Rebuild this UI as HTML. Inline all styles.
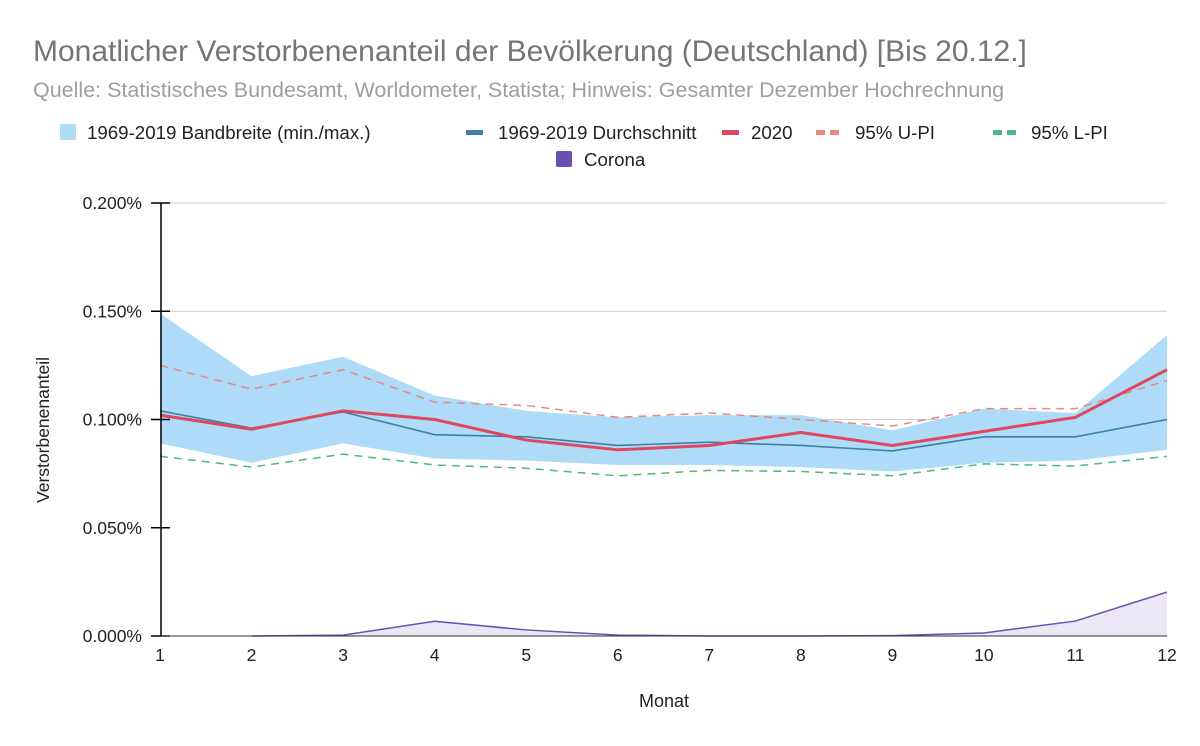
<!DOCTYPE html>
<html><head><meta charset="utf-8"><style>
body{margin:0;background:#fff;font-family:"Liberation Sans",Arial,sans-serif}
svg{display:block}
</style></head><body>
<svg id="c" width="1200" height="746">
<text x="33" y="61" font-size="30" fill="#757575">Monatlicher Verstorbenenanteil der Bevölkerung (Deutschland) [Bis 20.12.]</text>
<text x="33" y="97" font-size="21.5" fill="#9e9e9e">Quelle: Statistisches Bundesamt, Worldometer, Statista; Hinweis: Gesamter Dezember Hochrechnung</text>
<g font-size="18.7" fill="#222">
<rect x="60" y="124" width="16" height="16" fill="#aedcf8" rx="2"/><text x="87" y="139">1969-2019 Bandbreite (min./max.)</text>
<rect x="466" y="130" width="17" height="5" fill="#3d7fa6"/><text x="498" y="139">1969-2019 Durchschnitt</text>
<rect x="722" y="130" width="17" height="5" fill="#e0475f"/><text x="751" y="139">2020</text>
<rect x="816" y="130" width="9" height="5" fill="#e88a7e"/><rect x="830" y="130" width="9" height="5" fill="#e88a7e"/><text x="855" y="139">95% U-PI</text>
<rect x="993" y="130" width="9" height="5" fill="#4db885"/><rect x="1007" y="130" width="9" height="5" fill="#4db885"/><text x="1031" y="139">95% L-PI</text>
<rect x="556" y="151" width="16" height="16" fill="#6a4fb3" rx="2"/><text x="584" y="166">Corona</text>
</g>
<g id="grid"></g><g id="plot"></g><g id="axes"></g>
<text x="664" y="707" font-size="18" text-anchor="middle" fill="#222">Monat</text>
<text transform="translate(49,430) rotate(-90)" font-size="17.5" text-anchor="middle" fill="#222">Verstorbenenanteil</text>
</svg>
<script>
const months=[1,2,3,4,5,6,7,8,9,10,11,12];
const bandMax=[0.149,0.120,0.129,0.111,0.104,0.101,0.102,0.102,0.095,0.105,0.103,0.139];
const bandMin=[0.089,0.080,0.089,0.082,0.081,0.079,0.079,0.078,0.076,0.080,0.081,0.086];
const avg=[0.104,0.096,0.1035,0.093,0.092,0.088,0.0895,0.088,0.0855,0.092,0.092,0.100];
const y2020=[0.102,0.0955,0.104,0.100,0.0905,0.086,0.088,0.094,0.088,0.0945,0.101,0.123];
const upi=[0.125,0.114,0.123,0.108,0.1065,0.101,0.103,0.100,0.097,0.105,0.105,0.118];
const lpi=[0.083,0.078,0.084,0.079,0.0775,0.074,0.0765,0.076,0.074,0.0795,0.0785,0.083];
const coronaMonths=[2,3,4,5,6,7,8,9,10,11,12];
const corona=[0,0.0004,0.0068,0.0028,0.0004,0,0,0.0002,0.0014,0.0069,0.0203];
const yTicks=[0,0.05,0.1,0.15,0.2];
const yTickLabels=["0.000%","0.050%","0.100%","0.150%","0.200%"];
const gridTicks=[0.1,0.15,0.2];
const NS="http://www.w3.org/2000/svg";
const X=m=>160+(m-1)*(1167-160)/11;
const Y=v=>636-v*(433/0.2);
function mk(parent,tag,attrs){const e=document.createElementNS(NS,tag);for(const k in attrs)e.setAttribute(k,attrs[k]);document.getElementById(parent).appendChild(e);return e;}
gridTicks.forEach(t=>{
 const g=mk('grid','line',{x1:161,x2:1167,y1:Y(t),y2:Y(t),stroke:'#ccc','stroke-width':1});
 
 
});
yTicks.forEach((t,i)=>{
 const tk=mk('axes','line',{x1:151,x2:170,y1:Y(t),y2:Y(t),stroke:'#000','stroke-width':1.5});
 
 
 const l=mk('axes','text',{x:142,y:Y(t)+6,'font-size':17.5,'text-anchor':'end',fill:'#222'});l.textContent=yTickLabels[i];
 
 
});
const ax=mk('axes','line',{x1:161,x2:161,y1:Y(0.2),y2:Y(0),stroke:'#000','stroke-width':1.5});


const bx=mk('axes','line',{x1:161,x2:1167,y1:Y(0),y2:Y(0),stroke:'#333','stroke-width':1});


months.forEach(m=>{const l=mk('axes','text',{x:X(m),y:661,'font-size':17.5,'text-anchor':'middle',fill:'#222'});l.textContent=m;
 
 });
let bp=months.map((m,i)=>X(m)+','+Y(bandMax[i])).join(' ')+' '+months.slice().reverse().map((m,j)=>X(m)+','+Y(bandMin[11-j])).join(' ');
const band=mk('plot','polygon',{points:bp,fill:'#aedcf8'});


const pts=(ms,vs)=>ms.map((m,i)=>X(m)+','+Y(vs[i])).join(' ');
const cp=pts(coronaMonths,corona)+' '+X(12)+','+Y(0)+' '+X(2)+','+Y(0);
const cf=mk('plot','polygon',{points:cp,fill:'#ebe7f4'});


const cl=mk('plot','polyline',{points:pts(coronaMonths,corona),fill:'none',stroke:'#6a4fb3','stroke-width':1.5});


const u=mk('plot','polyline',{points:pts(months,upi),fill:'none',stroke:'#e88a7e','stroke-width':1.5,'stroke-dasharray':'8 6'});


const lo=mk('plot','polyline',{points:pts(months,lpi),fill:'none',stroke:'#4db885','stroke-width':1.5,'stroke-dasharray':'8 6'});


const a=mk('plot','polyline',{points:pts(months,avg),fill:'none',stroke:'#3d7fa6','stroke-width':1.6});


const r=mk('plot','polyline',{points:pts(months,y2020),fill:'none',stroke:'#e0475f','stroke-width':3,'stroke-linejoin':'round'});


</script>
</body></html>
